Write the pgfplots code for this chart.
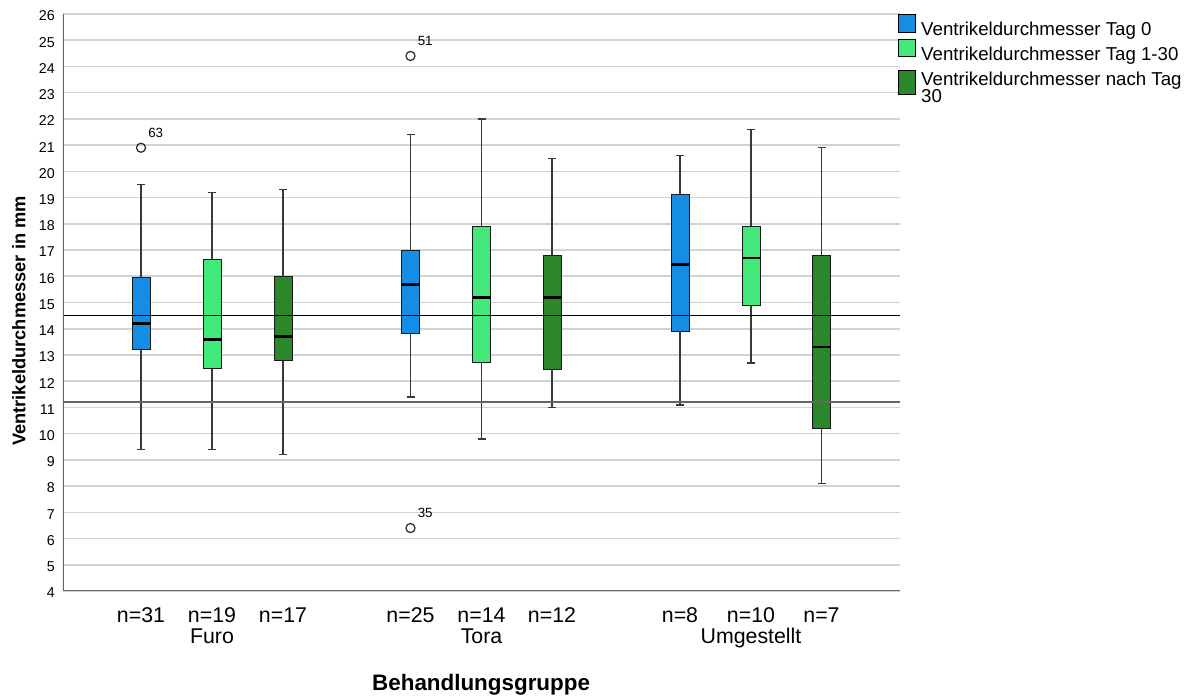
\documentclass[border=0pt]{standalone}
\usepackage{pgfplots}
\pgfplotsset{compat=1.18}
\usepgfplotslibrary{statistics}
\usepackage{fontspec}
\setmainfont{Liberation Sans}
\definecolor{cBlue}{RGB}{22,141,229}
\definecolor{cLight}{RGB}{66,232,122}
\definecolor{cDark}{RGB}{43,135,41}
\pgfplotsset{
  mybox/.style={forget plot, solid, draw=black, fill=#1, mark=o, mark size=3.4pt,
    mark options={draw=black!85, line width=0.9pt, fill=none, solid},
    boxplot/box extend=18, boxplot/whisker extend=8,
    boxplot/every box/.style={draw=black!90, line width=0.75pt, fill=#1},
    boxplot/every whisker/.style={draw=black!78, line width=1.1pt},
    boxplot/every median/.style={draw=black, line width=2.1pt}},
}
\begin{document}
\begin{tikzpicture}
\path[use as bounding box] (-47.25pt,-80.25pt) rectangle (844.5pt,443.25pt);
\begin{axis}[
  at={(0pt,0pt)}, anchor=south west, scale only axis,
  width=627.75pt, height=432.75pt,
  xmin=63, xmax=900, ymin=4, ymax=26,
  boxplot/draw direction=y,
  ytick={4,5,...,26},
  xtick={141,212,283,410.5,481.5,552,680,751,821.5},
  xticklabels={{n=31},{n=19\\Furo},{n=17},{n=25},{n=14\\Tora},{n=12},{n=8},{n=10\\Umgestellt},{n=7}},
  ymajorgrids, grid style={gray!35, line width=1.2pt},
  axis line style={draw=none},
  major tick length=0pt,
  tick style={draw=none},
  /pgf/number format/assume math mode=true,
  yticklabel style={font=\fontsize{10.7}{12}\selectfont, inner sep=0pt, anchor=east, xshift=-6pt, yshift=-1.5pt},
  xticklabel style={font=\fontsize{16}{16}\selectfont, inner sep=0pt, anchor=north, yshift=-12.2pt, align=center},
  xlabel={Behandlungsgruppe},
  ylabel={Ventrikeldurchmesser in mm},
  xlabel style={font=\bfseries\fontsize{16.8}{18}\selectfont, at={(axis description cs:0.4995,-0.163)}, anchor=center},
  ylabel style={font=\bfseries\fontsize{13.7}{16}\selectfont, at={(axis description cs:-0.0527,0.468)}, anchor=center},
  legend style={at={(rel axis cs:1,1)}, anchor=north west, xshift=-1.3pt, draw=none, fill=none, inner sep=0pt, outer sep=0pt, row sep={18.4pt,between origins}, column sep=3.75pt, font=\fontsize{14}{16}\selectfont, nodes={inner sep=0pt}},
  legend cell align=left,
]
% Furo
\addplot+[mybox=cBlue, boxplot prepared={draw position=141, lower whisker=9.4, lower quartile=13.2, median=14.2, upper quartile=15.95, upper whisker=19.5}] coordinates {(0,20.9)};
\addplot+[mybox=cLight, boxplot prepared={draw position=212, lower whisker=9.4, lower quartile=12.5, median=13.6, upper quartile=16.65, upper whisker=19.2}] coordinates {};
\addplot+[mybox=cDark, boxplot prepared={draw position=283, lower whisker=9.2, lower quartile=12.8, median=13.7, upper quartile=16.0, upper whisker=19.3}] coordinates {};
% Tora
\addplot+[mybox=cBlue, boxplot prepared={draw position=410.5, lower whisker=11.4, lower quartile=13.8, median=15.7, upper quartile=17.0, upper whisker=21.4}] coordinates {(0,24.4) (0,6.4)};
\addplot+[mybox=cLight, boxplot prepared={draw position=481.5, lower whisker=9.8, lower quartile=12.7, median=15.2, upper quartile=17.9, upper whisker=22.0}] coordinates {};
\addplot+[mybox=cDark, boxplot prepared={draw position=552, lower whisker=11.0, lower quartile=12.45, median=15.2, upper quartile=16.8, upper whisker=20.5}] coordinates {};
% Umgestellt
\addplot+[mybox=cBlue, boxplot prepared={draw position=680, lower whisker=11.1, lower quartile=13.9, median=16.45, upper quartile=19.1, upper whisker=20.6}] coordinates {};
\addplot+[mybox=cLight, boxplot prepared={draw position=751, lower whisker=12.7, lower quartile=14.9, median=16.7, upper quartile=17.9, upper whisker=21.6}] coordinates {};
\addplot+[mybox=cDark, boxplot prepared={draw position=821.5, lower whisker=8.1, lower quartile=10.2, median=13.3, upper quartile=16.8, upper whisker=20.9}] coordinates {};
% reference lines
\addplot[forget plot, black, line width=0.8pt] coordinates {(63,14.5) (900,14.5)};
\addplot[forget plot, black!60, line width=1.4pt] coordinates {(63,11.2) (900,11.2)};
% axis lines
\draw[black!60, line width=0.8pt] (rel axis cs:0,1) -- (rel axis cs:0,0) -- (rel axis cs:1,0);
% outlier labels
\node[anchor=west, inner sep=0pt, font=\fontsize{10}{12}\selectfont, xshift=5.25pt, yshift=11.25pt] at (axis cs:141,20.9) {63};
\node[anchor=west, inner sep=0pt, font=\fontsize{10}{12}\selectfont, xshift=5.25pt, yshift=11.25pt] at (axis cs:410.5,24.4) {51};
\node[anchor=west, inner sep=0pt, font=\fontsize{10}{12}\selectfont, xshift=5.25pt, yshift=11.25pt] at (axis cs:410.5,6.4) {35};
% legend
\addlegendimage{legend image code/.code={\draw[fill=cBlue,draw=black,line width=0.7pt] (0pt,-1.4pt) rectangle (12.75pt,11.8pt);}}
\addlegendentry{Ventrikeldurchmesser Tag 0}
\addlegendimage{legend image code/.code={\draw[fill=cLight,draw=black,line width=0.7pt] (0pt,-1.4pt) rectangle (12.75pt,11.8pt);}}
\addlegendentry{Ventrikeldurchmesser Tag 1-30}
\addlegendimage{legend image code/.code={\draw[fill=cDark,draw=black,line width=0.7pt] (0pt,-11.5pt) rectangle (12.75pt,6.3pt);}}
\addlegendentry{\vtop{\offinterlineskip\hbox{Ventrikeldurchmesser nach Tag}\kern0.3pt\hbox{30}}}
\end{axis}
\end{tikzpicture}
\end{document}
